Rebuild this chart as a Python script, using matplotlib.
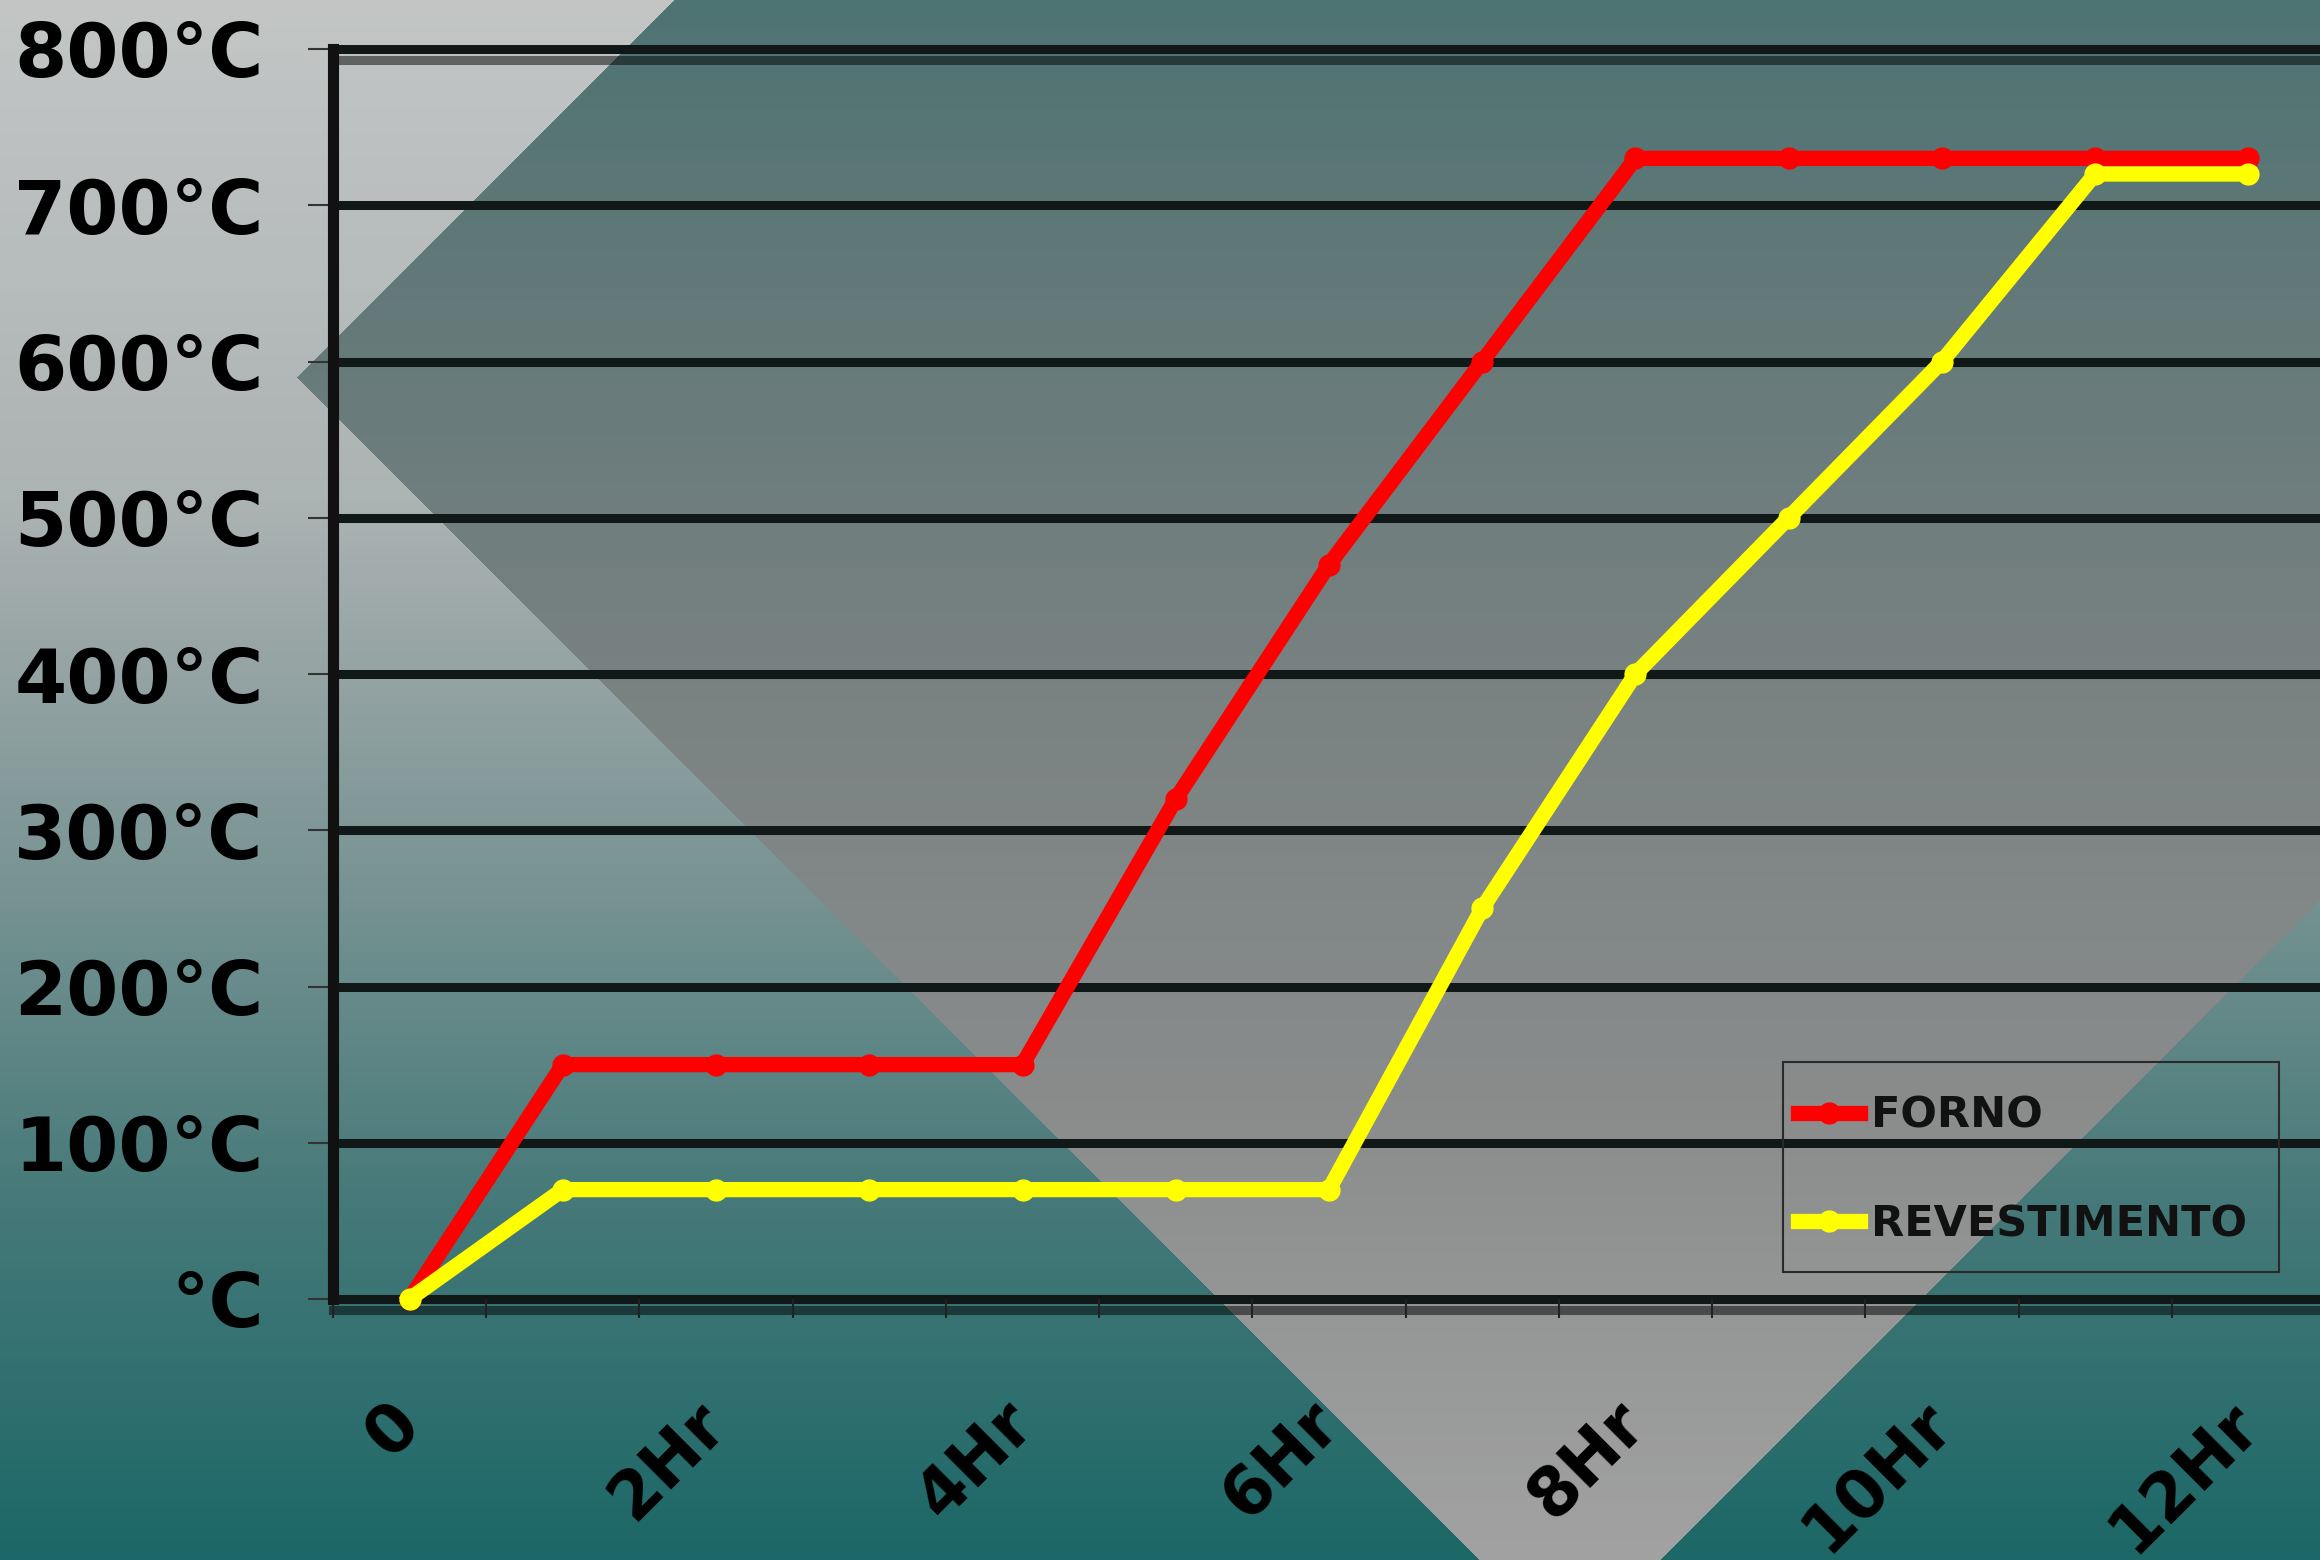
import numpy as np
import matplotlib
matplotlib.use('Agg')
import matplotlib.pyplot as plt
import matplotlib.patheffects as pe
from matplotlib.patches import Rectangle

# burnout cycle: hours from start, temperatures in degrees C
hours = ['0', '1Hr', '2Hr', '3Hr', '4Hr', '5Hr', '6Hr', '7Hr', '8Hr',
         '9Hr', '10Hr', '11Hr', '12Hr']
forno = [0, 150, 150, 150, 150, 320, 470, 600, 730, 730, 730, 730, 730]
revestimento = [0, 70, 70, 70, 70, 70, 70, 250, 400, 500, 600, 720, 720]

temp_ticks = [0, 100, 200, 300, 400, 500, 600, 700, 800]
temp_labels = ['°C', '100°C', '200°C', '300°C', '400°C',
               '500°C', '600°C', '700°C', '800°C']
series_names = ['FORNO', 'REVESTIMENTO']
series_colors = ['#ff0000', '#ffff00']

plt.rcParams['font.family'] = ['DejaVu Sans']
plt.rcParams['font.weight'] = 'bold'
plt.rcParams['text.color'] = '#111111'

W, H = 2320, 1560
fig = plt.figure(figsize=(W / 100, H / 100), dpi=100)


def vgrad(stops_y, stops_rgb, y):
    rgb = np.array(stops_rgb) / 255.0
    return np.stack([np.interp(y, stops_y, rgb[:, c]) for c in range(3)], axis=-1)


# slide background: grey -> teal gradient with a big tilted square over it
yy, xx = np.mgrid[0:H, 0:W].astype(float)
img = vgrad([0, 500, 650, 900, 1200, 1560],
            [(196, 198, 198), (172, 179, 179), (152, 165, 165),
             (118, 146, 146), (70, 121, 121), (28, 103, 103)], yy)
diamond = (xx + yy > 673) & (yy - xx < 81) & (xx + yy < 3220)
img_d = vgrad([0, 300, 700, 1100, 1560],
              [(78, 115, 115), (100, 121, 121), (122, 130, 130),
               (138, 140, 140), (162, 162, 162)], yy)
img[diamond] = img_d[diamond]

bg = fig.add_axes([0, 0, 1, 1], zorder=-10)
bg.imshow(img, extent=(0, W, H, 0), aspect='auto', interpolation='nearest')
bg.set_axis_off()

# main chart
x = np.arange(len(hours))
ax = fig.add_axes([333 / W, 261 / H, 1992 / W, 1250 / H])
ax.set_facecolor('none')
ax.set_xlim(-0.5, len(hours) - 0.5)
ax.set_ylim(temp_ticks[0], temp_ticks[-1])

grid_color = '#101818'
for v in temp_ticks[1:-1]:
    ax.axhline(v, color=grid_color, lw=6.5, zorder=1)
shadow = [pe.SimpleLineShadow(offset=(0, -8), shadow_color='k', alpha=0.5), pe.Normal()]
for v in (temp_ticks[0], temp_ticks[-1]):
    ax.axhline(v, color=grid_color, lw=6.5, zorder=1.5, clip_on=False,
               path_effects=shadow)

for vals, name, color in zip([forno, revestimento], series_names, series_colors):
    ax.plot(x, vals, color=color, lw=11, marker='o', ms=15, label=name,
            zorder=3, clip_on=False)

ax.set_yticks(temp_ticks)
ax.set_yticklabels(temp_labels)
ax.tick_params(axis='y', direction='out', length=18, width=1.5,
               color='#333333', pad=32, labelsize=54)

ax.set_xticks(x)
ax.set_xticklabels([h if i % 2 == 0 else '' for i, h in enumerate(hours)],
                   rotation=45, ha='right', va='center', rotation_mode='anchor')
ax.tick_params(axis='x', which='major', length=0, pad=82, labelsize=48)
ax.set_xticks(np.arange(-0.5, len(hours)), minor=True)
ax.tick_params(axis='x', which='minor', direction='out', length=14,
               width=1.5, color='#222222')

for side in ['top', 'right', 'bottom']:
    ax.spines[side].set_visible(False)
ax.spines['left'].set_linewidth(8)
ax.spines['left'].set_color('#111111')

# legend box drawn separately so the padding can match the slide
fig.patches.append(Rectangle((1783 / W, 1 - 1272 / H), 496 / W, 210 / H,
                             transform=fig.transFigure, fill=False,
                             edgecolor='#2a2a2a', lw=1.5, zorder=5))
leg = ax.legend(loc='center left', bbox_to_anchor=(1798 / W, 1 - 1170 / H),
                bbox_transform=fig.transFigure, borderaxespad=0, borderpad=0,
                fontsize=31, frameon=False, labelspacing=1.55,
                handlelength=1.45, handletextpad=0.25)

fig.savefig('out.png', dpi=100)
